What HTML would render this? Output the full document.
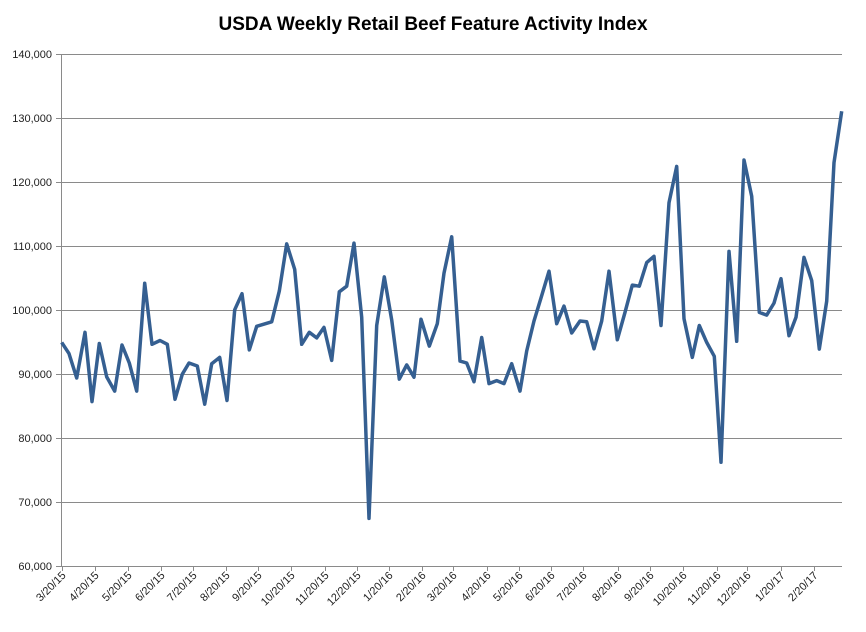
<!DOCTYPE html>
<html><head><meta charset="utf-8"><style>body{margin:0;background:#fff}</style></head><body>
<svg width="866" height="627" xmlns="http://www.w3.org/2000/svg" font-family="Liberation Sans, sans-serif">
<text x="433" y="30" text-anchor="middle" font-size="19" font-weight="bold" fill="#000">USDA Weekly Retail Beef Feature Activity Index</text>
<g stroke="#8a8a8a" stroke-width="1">
<line x1="61" y1="54.5" x2="842" y2="54.5"/><line x1="61" y1="118.5" x2="842" y2="118.5"/><line x1="61" y1="182.5" x2="842" y2="182.5"/><line x1="61" y1="246.5" x2="842" y2="246.5"/><line x1="61" y1="310.5" x2="842" y2="310.5"/><line x1="61" y1="374.5" x2="842" y2="374.5"/><line x1="61" y1="438.5" x2="842" y2="438.5"/><line x1="61" y1="502.5" x2="842" y2="502.5"/><line x1="61" y1="566.5" x2="842" y2="566.5"/>
<line x1="61.5" y1="54" x2="61.5" y2="566"/>
<line x1="56" y1="54.5" x2="61" y2="54.5"/><line x1="56" y1="118.5" x2="61" y2="118.5"/><line x1="56" y1="182.5" x2="61" y2="182.5"/><line x1="56" y1="246.5" x2="61" y2="246.5"/><line x1="56" y1="310.5" x2="61" y2="310.5"/><line x1="56" y1="374.5" x2="61" y2="374.5"/><line x1="56" y1="438.5" x2="61" y2="438.5"/><line x1="56" y1="502.5" x2="61" y2="502.5"/><line x1="56" y1="566.5" x2="61" y2="566.5"/>
</g>
<g font-size="11" fill="#222" text-anchor="end">
<text x="52" y="58">140,000</text><text x="52" y="122">130,000</text><text x="52" y="186">120,000</text><text x="52" y="250">110,000</text><text x="52" y="314">100,000</text><text x="52" y="378">90,000</text><text x="52" y="442">80,000</text><text x="52" y="506">70,000</text><text x="52" y="570">60,000</text>
</g>
<g stroke="#8a8a8a" stroke-width="1" id="ticks"></g>
<g font-size="11" fill="#222" text-anchor="end" id="xl"></g>
<polyline id="ln" fill="none" stroke="#355f91" stroke-width="3.5" stroke-linejoin="round" points=""/>
<script>
var xs=[61.7,95,127.7,160.7,192.7,226,258,290.7,325,356.7,389,422.3,453.3,486.7,519.3,551.3,583.3,617.7,650.3,682.7,716.7,747.3,780.7,814.3];
var lb=["3/20/15","4/20/15","5/20/15","6/20/15","7/20/15","8/20/15","9/20/15","10/20/15","11/20/15","12/20/15","1/20/16","2/20/16","3/20/16","4/20/16","5/20/16","6/20/16","7/20/16","8/20/16","9/20/16","10/20/16","11/20/16","12/20/16","1/20/17","2/20/17"];
var ns="http://www.w3.org/2000/svg",t=document.getElementById("ticks"),g=document.getElementById("xl");
xs.forEach(function(x,i){var l=document.createElementNS(ns,"line");x=Math.round(x)+0.5;l.setAttribute("x1",x);l.setAttribute("x2",x);l.setAttribute("y1",566);l.setAttribute("y2",571);t.appendChild(l);
var tx=document.createElementNS(ns,"text");tx.setAttribute("transform","translate("+(x+4)+",576) rotate(-45)");tx.textContent=lb[i];g.appendChild(tx);});
var a=[[185,805],[207,835],[230,900],[255,778],[276,963],[298,808],[320,897],[344,935],[366,812],[388,860],[410,935],[434,647],[456,810],[480,800],[502,810],[525,957],[547,890],[567,860],[592,868],[614,970],[635,862],[659,845],[681,960],[704,718],[726,675],[748,825],[770,762],[815,750],[838,668],[860,542],[884,610],[905,810],[928,778],[950,793],[972,765],[995,853],[1018,670],[1040,655],[1062,540],[1085,738],[1107,1275],[1130,760],[1153,630],[1175,745],[1198,903],[1220,865],[1242,898],[1263,743],[1288,815]];
var b=[[22,755],[42,620],[65,523],[90,855],[110,860],[132,910],[155,792],[177,915],[200,907],[222,915],[245,862],[270,935],[290,828],[312,748],[335,680],[357,615],[380,755],[402,708],[425,780],[450,748],[470,750],[492,822],[515,748],[537,615],[562,798],[585,725],[607,652],[628,655],[650,592],[672,575],[693,760],[717,432],[740,335],[762,742],[787,845],[808,760],[830,805],[853,842],[873,1125],[897,562],[920,802],[942,318],[965,415],[988,725],[1010,732],[1032,700],[1053,635],[1077,787],[1098,738],[1122,578],[1145,640],[1168,823],[1190,695],[1212,325],[1235,188]];
function Y(z){return (54+(z-35)*512/1367).toFixed(1);}
var p=[];a.forEach(function(q){p.push((q[0]/3).toFixed(1)+","+Y(q[1]));});
b.forEach(function(q){p.push((q[0]/3+430).toFixed(1)+","+Y(q[1]));});
document.getElementById("ln").setAttribute("points",p.join(" "));
</script>
</svg>
</body></html>
